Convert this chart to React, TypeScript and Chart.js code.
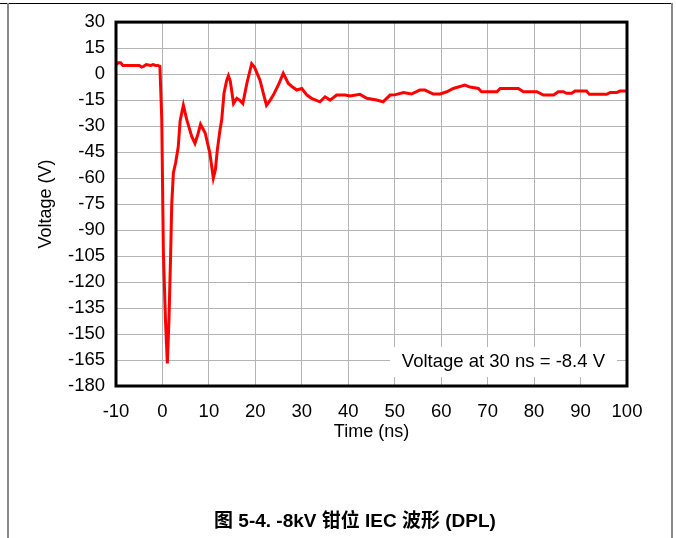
import React, { useEffect, useRef } from "react";
import { Chart, registerables } from "chart.js";

Chart.register(...registerables);

// Time (ns)
const times: number[] = [
  -10, -9.5, -9, -8.5, -7, -6, -5, -4.5, -4, -3.5, -2.5, -2, -1.5, -1, -0.55,
  -0.15, 0.2, 0.65, 1.05, 1.4, 1.77, 2.0, 2.35, 2.85, 3.4, 3.8, 4.5,
  5.2, 6.3, 7.0, 7.6, 8.2, 9.2, 10.2, 10.95, 11.4, 11.8, 12.4, 12.75, 13.25, 13.8,
  14.2, 14.6, 15.3, 16.0, 16.6, 17.3, 18.2, 19.2, 19.8, 21.0, 21.8, 22.4, 23.2, 23.9,
  25.0, 26.0, 27.1, 27.8, 28.9, 30.0, 31.1, 32.1, 33.0, 33.9, 35.0, 36.1, 37.5,
  39.3, 40.4, 42.5, 44.0, 46.1, 47.5, 49.0, 50.0, 51.9, 53.6, 55.4, 56.5, 58.3,
  59.8, 61.2, 62.6, 65.1, 66.2, 68.0, 68.7, 72.0, 72.7, 76.6, 77.7, 80.6, 82.0,
  84.2, 85.2, 86.3, 87.0, 88.1, 88.8, 91.3, 91.9, 95.6, 96.4, 97.8, 98.5, 100,
];

// Voltage (V)
const voltages: number[] = [
  5.5, 6.5, 6.5, 5, 5, 5, 5, 4, 4.5, 5.5, 5, 5.5, 5, 5, 4.5,
  -26, -103, -142, -167, -142, -103, -75, -57, -51, -42, -27, -18,
  -26, -36, -40, -35, -29, -34, -45.6, -60, -55, -44, -32, -26.5, -11, -4,
  -1, -4, -17, -14, -15, -17, -5, 6, 4, -3.5, -12, -18, -15, -12,
  -6, 0.4, -5.4, -7, -9.2, -8.3, -12.1, -14, -15, -16, -13.1, -15, -12.1,
  -12.1, -12.7, -11.7, -14, -15, -16, -12.1, -12, -10.7, -11.5, -9.2, -9.2, -11.5,
  -11.5, -10.2, -8.3, -6.4, -7.5, -8.3, -10.2, -10.2, -8.3, -8.3, -10.2, -10.2, -12.1,
  -12.1, -10.2, -10.2, -11.1, -11.1, -9.8, -9.8, -11.7, -11.7, -10.6, -10.6, -9.8, -9.8,
];

const xTicks = { min: -10, max: 100, step: 10 };
const yTicks = { min: -180, max: 30, step: 15 };

const xTitle = "Time (ns)";
const yTitle = "Voltage (V)";
const annotationText = "Voltage at 30 ns = -8.4 V";
const caption = "图 5-4. -8kV 钳位 IEC 波形 (DPL)";

const FONT = "'Liberation Sans', Arial, sans-serif";
const FS = 18.5;

const framePlugin = {
  id: "framePlugin",
  beforeDatasetsDraw(chart: any) {
    const { ctx, chartArea } = chart;
    const { right, bottom } = chartArea;
    ctx.save();
    ctx.fillStyle = "#ffffff";
    ctx.fillRect(right - 237, bottom - 39, 227, 30);
    ctx.fillStyle = "#000000";
    ctx.font = `${FS}px ${FONT}`;
    ctx.textAlign = "right";
    ctx.textBaseline = "middle";
    ctx.fillText(annotationText, right - 22, bottom - 24);
    ctx.restore();
  },
  afterDatasetsDraw(chart: any) {
    const { ctx, chartArea } = chart;
    const { left, top, right, bottom } = chartArea;
    ctx.save();
    ctx.strokeStyle = "#000000";
    ctx.lineWidth = 3;
    ctx.strokeRect(left, top, right - left, bottom - top);
    ctx.restore();
  },
};

function WaveChart() {
  const ref = useRef<HTMLCanvasElement | null>(null);
  useEffect(() => {
    if (!ref.current) return;
    const chart = new Chart(ref.current, {
      type: "line",
      data: {
        datasets: [
          {
            data: times.map((t, i) => ({ x: t, y: voltages[i] })),
            borderColor: "#ff0000",
            borderWidth: 3,
            pointRadius: 0,
            tension: 0,
            fill: false,
          },
        ],
      },
      options: {
        responsive: false,
        animation: false,
        layout: { padding: { left: 0, right: 49, top: 22, bottom: 95 } },
        plugins: { legend: { display: false }, tooltip: { enabled: false } },
        scales: {
          x: {
            type: "linear",
            min: xTicks.min,
            max: xTicks.max,
            afterFit: (s: any) => {
              s.height = 57;
            },
            ticks: {
              stepSize: xTicks.step,
              color: "#000",
              font: { family: FONT, size: FS },
              padding: 15,
              maxRotation: 0,
            },
            grid: { color: "#b4b4b4", lineWidth: 1, drawTicks: false },
            border: { display: false },
            title: {
              display: true,
              text: xTitle,
              color: "#000",
              font: { family: FONT, size: 18 },
              padding: { top: 0, bottom: 0 },
            },
          },
          y: {
            type: "linear",
            min: yTicks.min,
            max: yTicks.max,
            afterFit: (s: any) => {
              s.width = 116;
            },
            ticks: {
              stepSize: yTicks.step,
              color: "#000",
              font: { family: FONT, size: FS },
              padding: 11,
            },
            grid: { color: "#b4b4b4", lineWidth: 1, drawTicks: false },
            border: { display: false },
            title: {
              display: true,
              text: yTitle,
              color: "#000",
              font: { family: FONT, size: 18 },
              padding: { top: 35, bottom: 0 },
            },
          },
        },
      },
      plugins: [framePlugin],
    });
    return () => chart.destroy();
  }, []);
  return (
    <canvas
      ref={ref}
      width={676}
      height={538}
      style={{ display: "block", width: 676, height: 538 }}
    />
  );
}

export default function App() {
  return (
    <div
      style={{
        position: "fixed",
        left: 0,
        top: 0,
        width: 676,
        height: 538,
        background: "#fff",
        overflow: "hidden",
      }}
    >
      <WaveChart />
      <div style={{ position: "absolute", left: 0, top: 3, width: 672, height: 1, background: "#000" }} />
      <div style={{ position: "absolute", left: 7, top: 3, width: 2, height: 535, background: "#8a8a8a" }} />
      <div style={{ position: "absolute", left: 671, top: 3, width: 2, height: 535, background: "#8a8a8a" }} />
      <div
        style={{
          position: "absolute",
          left: 0,
          top: 508,
          width: 710,
          textAlign: "center",
          fontFamily: "'Liberation Sans', Arial, 'Noto Sans CJK SC', sans-serif",
          fontWeight: "bold",
          fontSize: 19,
          lineHeight: "26px",
          color: "#000",
          whiteSpace: "nowrap",
        }}
      >
        {caption}
      </div>
    </div>
  );
}
